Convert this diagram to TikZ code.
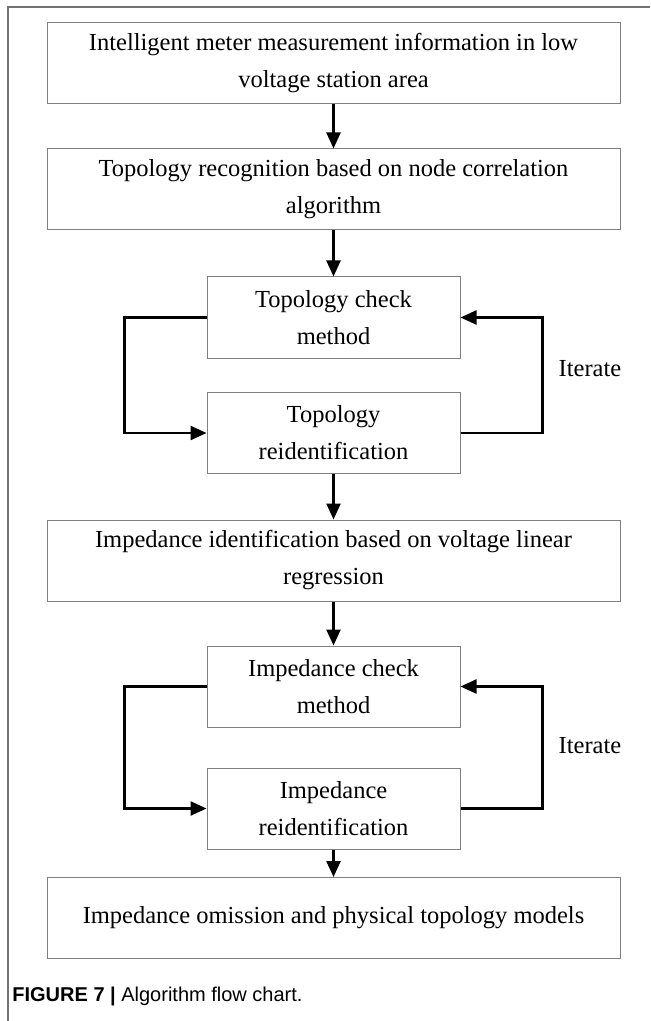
\documentclass[tikz,border=0pt]{standalone}
\usepackage{fontspec}
\setmainfont{Liberation Serif}
\newfontfamily\capfont{Liberation Sans}
\usetikzlibrary{arrows.meta}
\usetikzlibrary{positioning}

\begin{document}
\begin{tikzpicture}[x=0.5pt,y=-0.5pt,
  box/.style={rectangle,draw=black!50,line width=0.5pt,fill=white,align=center,inner sep=0pt,
    font=\fontsize{12.25}{18.5}\selectfont},
  widebox/.style={box,minimum width=286.5pt,minimum height=40.5pt},
  smallbox/.style={box,minimum width=126.5pt,minimum height=40.5pt},
  flow/.style={draw=black,line width=1.2pt,-{Triangle[length=8pt,width=7pt]}},
  frameline/.style={draw=black!55,line width=0.6pt}]
\useasboundingbox (0,0) rectangle (650,1021);
% frame
\draw[frameline] (8,1021) -- (8,7) -- (650,7);
% boxes
\node at (333.5,63.5)[widebox](info){Intelligent meter measurement information in low\\voltage station area};
\node at (333.5,189.5)[widebox](topo){Topology recognition based on node correlation\\algorithm};
\node at (333.5,317.5)[smallbox](tcheck){Topology check\\method};
\node at (333.5,433)[smallbox](treid){Topology\\reidentification};
\node at (333.5,560.5)[widebox](imp){Impedance identification based on voltage linear\\regression};
\node at (333.5,686.5)[smallbox](icheck){Impedance check\\method};
\node at (333.5,808.5)[smallbox](ireid){Impedance\\reidentification};
\node at (333.5,918)[widebox](model){Impedance omission and physical topology models};
% iterate labels
\node at (590,369)[font=\fontsize{12.25}{14}\selectfont](titer){Iterate};
\node at (590,746)[font=\fontsize{12.25}{14}\selectfont](iiter){Iterate};
% main flow
\draw[flow] (info) -- (topo);
\draw[flow] (topo) -- (tcheck);
\draw[flow] (treid) -- (imp);
\draw[flow] (imp) -- (icheck);
\draw[flow] (ireid) -- (model);
% loops
\draw[flow] (tcheck.west) -- ++(-82,0) |- (treid.west);
\draw[flow] (treid.east) -- ++(82,0) |- (tcheck.east);
\draw[flow] (icheck.west) -- ++(-82,0) |- (ireid.west);
\draw[flow] (ireid.east) -- ++(82,0) |- (icheck.east);
% caption
\node at (12,996)[anchor=west,inner sep=0pt,font=\capfont\fontsize{10}{12}\selectfont](cap){\textbf{FIGURE 7 |} Algorithm flow chart.};
\end{tikzpicture}
\end{document}
